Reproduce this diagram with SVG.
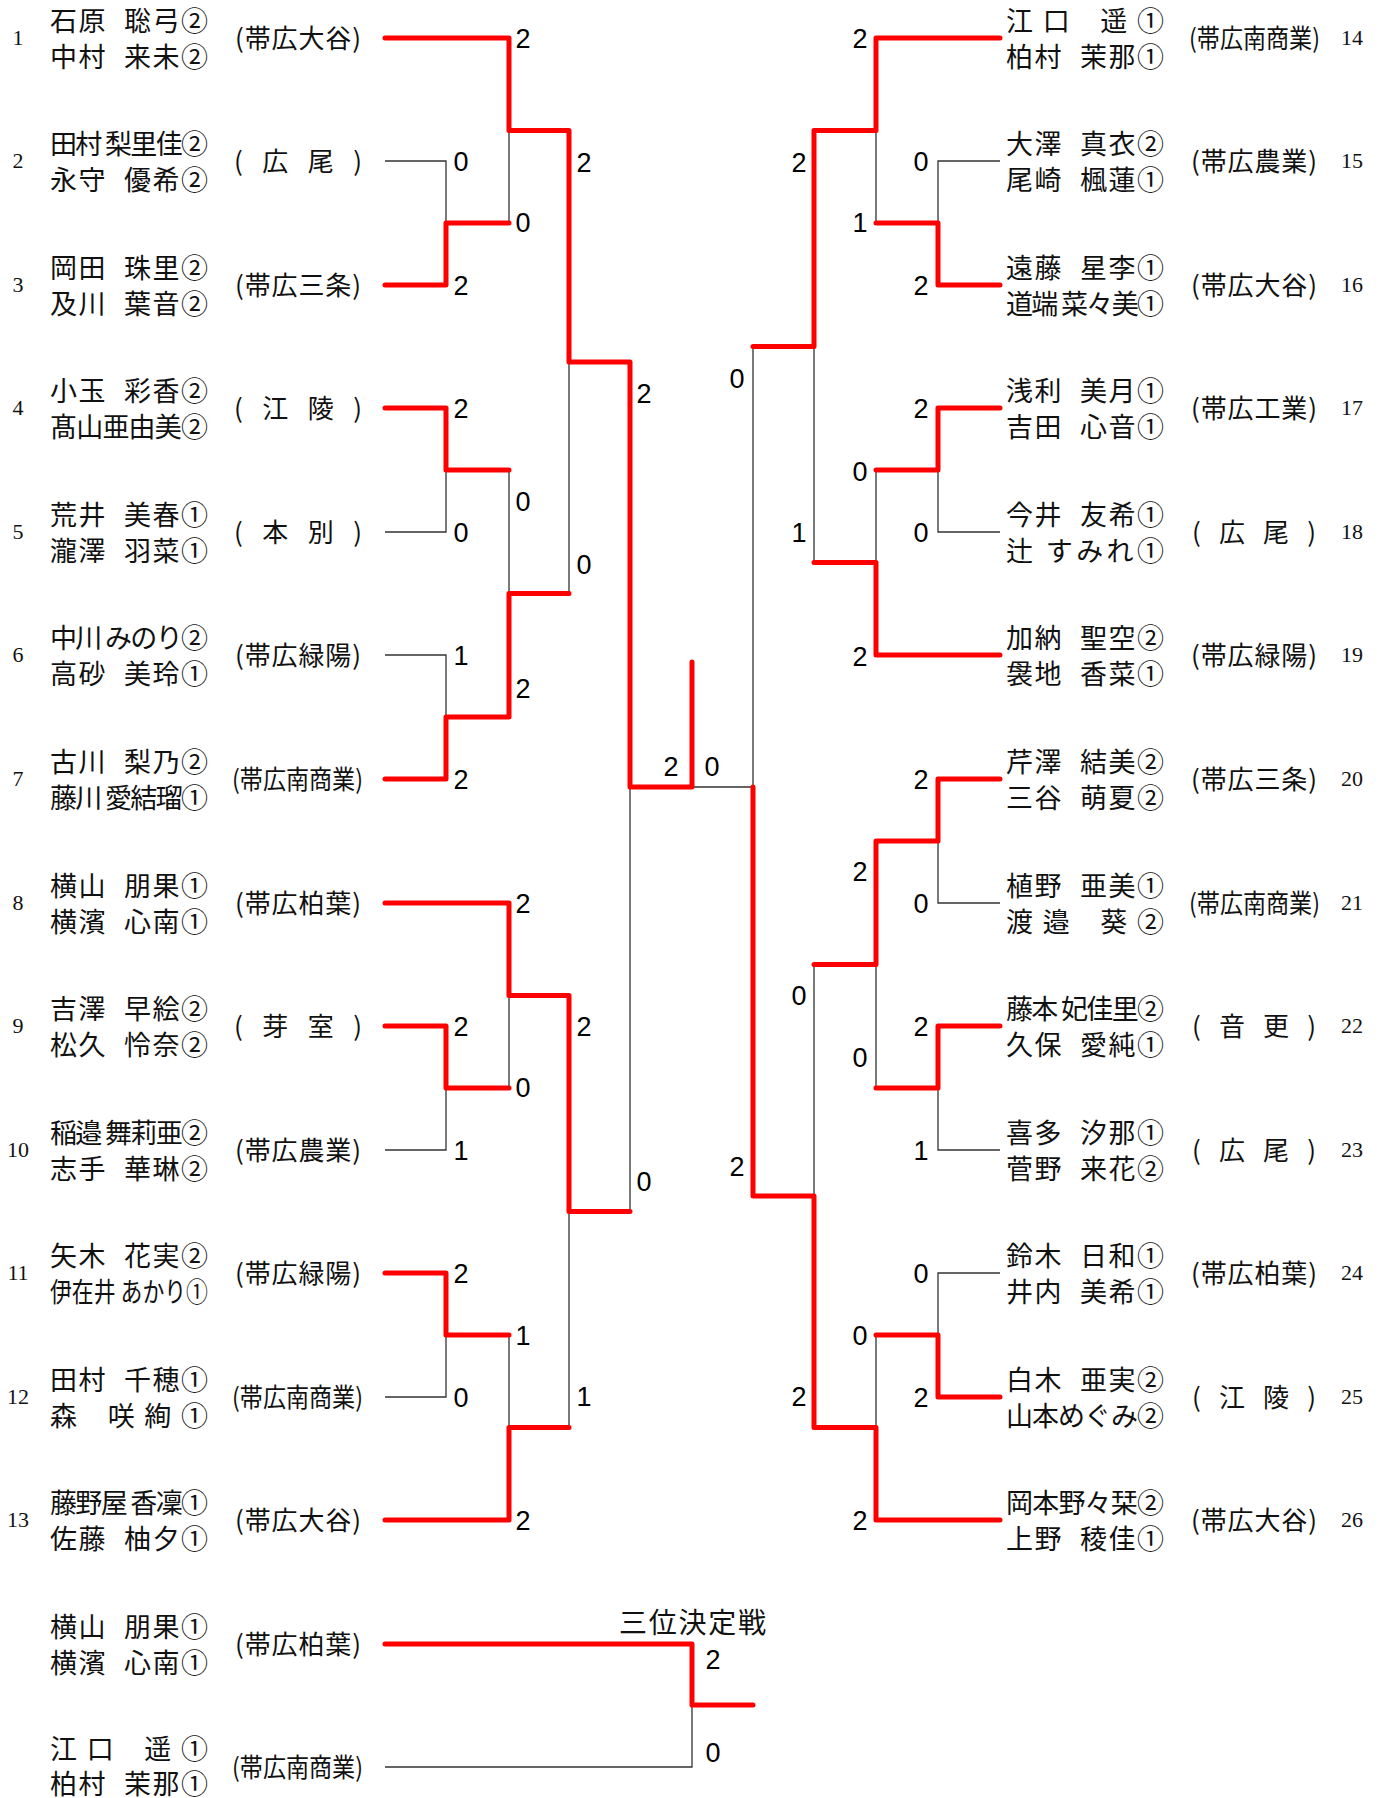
<svg xmlns="http://www.w3.org/2000/svg" width="1385" height="1798" viewBox="0 0 1385 1798">
<style>
.nm{font-family:"Noto Sans CJK JP","Noto Sans CJK SC",sans-serif;font-size:27px;fill:#111}
.sp{letter-spacing:1.5px}
.e{text-anchor:end}
.sc{font-family:"Noto Sans CJK JP","Noto Sans CJK SC",sans-serif;font-size:26px;fill:#111}
.no{font-family:"Liberation Serif",serif;font-size:22px;fill:#111;text-anchor:middle}
.pt{font-family:"Liberation Sans",Arial,sans-serif;font-size:27px;fill:#000;text-anchor:middle}
.ttl{font-family:"Noto Sans CJK JP","Noto Sans CJK SC",sans-serif;font-size:28px;fill:#111}
.thin{stroke:#333;stroke-width:1.3;fill:none}
.red{stroke:#ff0000;stroke-width:5;fill:none;stroke-linecap:round;stroke-linejoin:round}
</style>
<rect width="1385" height="1798" fill="#fff"/>

<g id="connectors">
<g id="thin-lines" class="thin">
<path d="M385 161H446V223M509 130.5V223"/>
<path d="M385 532H446V470M385 655H446V717M509 470V593.5M569 362V593.5"/>
<path d="M385 1150H446V1088M509 995.5V1088"/>
<path d="M385 1397H446V1335M509 1335V1427.5M569 1211.5V1427.5M630 787V1211.5"/>
<path d="M385 1767H692V1705"/>
<path d="M1000 161H938V223M876 130.5V223"/>
<path d="M1000 532H938V470M876 470V562.5M814 346.5V562.5M753 346.5V787H692"/>
<path d="M1000 903H938V841M1000 1150H938V1088M876 964.5V1088"/>
<path d="M1000 1273H938V1335M876 1335V1427.5M814 964.5V1196"/>
</g>
<g id="red-lines" class="red">
<polyline points="385,38 509,38 509,130.5 569,130.5 569,362 630,362 630,787 692,787 692,662"/>
<polyline points="385,285 446,285 446,223 509,223"/>
<polyline points="385,408 446,408 446,470 509,470"/>
<polyline points="385,779 446,779 446,717 509,717 509,593.5 569,593.5"/>
<polyline points="385,903 509,903 509,995.5 569,995.5 569,1211.5 630,1211.5"/>
<polyline points="385,1026 446,1026 446,1088 509,1088"/>
<polyline points="385,1273 446,1273 446,1335 509,1335"/>
<polyline points="385,1520 509,1520 509,1427.5 569,1427.5"/>
<polyline points="385,1644 692,1644 692,1705 753,1705"/>
<polyline points="1000,38 876,38 876,130.5 814,130.5 814,346.5 753,346.5"/>
<polyline points="1000,285 938,285 938,223 876,223"/>
<polyline points="1000,408 938,408 938,470 876,470"/>
<polyline points="1000,655 876,655 876,562.5 814,562.5"/>
<polyline points="1000,779 938,779 938,841 876,841 876,964.5 814,964.5"/>
<polyline points="1000,1026 938,1026 938,1088 876,1088"/>
<polyline points="1000,1397 938,1397 938,1335 876,1335"/>
<polyline points="1000,1520 876,1520 876,1427.5 814,1427.5 814,1196 753,1196 753,787"/>
</g>
</g>

<g id="scores">
<text class="pt" x="461" y="171">0</text>
<text class="pt" x="461" y="295">2</text>
<text class="pt" x="461" y="418">2</text>
<text class="pt" x="461" y="542">0</text>
<text class="pt" x="461" y="665">1</text>
<text class="pt" x="461" y="789">2</text>
<text class="pt" x="461" y="1036">2</text>
<text class="pt" x="461" y="1160">1</text>
<text class="pt" x="461" y="1283">2</text>
<text class="pt" x="461" y="1407">0</text>
<text class="pt" x="523" y="48">2</text>
<text class="pt" x="523" y="232">0</text>
<text class="pt" x="523" y="511">0</text>
<text class="pt" x="523" y="698">2</text>
<text class="pt" x="523" y="913">2</text>
<text class="pt" x="523" y="1097">0</text>
<text class="pt" x="523" y="1345">1</text>
<text class="pt" x="523" y="1530">2</text>
<text class="pt" x="584" y="172">2</text>
<text class="pt" x="584" y="574">0</text>
<text class="pt" x="584" y="1036">2</text>
<text class="pt" x="584" y="1406">1</text>
<text class="pt" x="644" y="403">2</text>
<text class="pt" x="644" y="1191">0</text>
<text class="pt" x="671" y="776">2</text>
<text class="pt" x="712" y="776">0</text>
<text class="pt" x="713" y="1669">2</text>
<text class="pt" x="713" y="1762">0</text>
<text class="pt" x="921" y="171">0</text>
<text class="pt" x="921" y="295">2</text>
<text class="pt" x="921" y="418">2</text>
<text class="pt" x="921" y="542">0</text>
<text class="pt" x="921" y="789">2</text>
<text class="pt" x="921" y="913">0</text>
<text class="pt" x="921" y="1036">2</text>
<text class="pt" x="921" y="1160">1</text>
<text class="pt" x="921" y="1283">0</text>
<text class="pt" x="921" y="1407">2</text>
<text class="pt" x="860" y="48">2</text>
<text class="pt" x="860" y="232">1</text>
<text class="pt" x="860" y="481">0</text>
<text class="pt" x="860" y="666">2</text>
<text class="pt" x="860" y="881">2</text>
<text class="pt" x="860" y="1067">0</text>
<text class="pt" x="860" y="1345">0</text>
<text class="pt" x="860" y="1530">2</text>
<text class="pt" x="799" y="172">2</text>
<text class="pt" x="799" y="542">1</text>
<text class="pt" x="799" y="1005">0</text>
<text class="pt" x="799" y="1406">2</text>
<text class="pt" x="737" y="388">0</text>
<text class="pt" x="737" y="1176">2</text>
</g>

<text id="title-third" class="ttl" x="619" y="1633" textLength="147">三位決定戦</text>

<g id="p1"><text class="no" x="18" y="45">1</text><text class="nm sp"><tspan x="50" y="31">石原 </tspan><tspan class="e" x="209.5" y="31">聡弓②</tspan></text><text class="nm sp"><tspan x="50" y="67">中村 </tspan><tspan class="e" x="209.5" y="67">来未②</tspan></text><text class="sc" x="235" y="48" textLength="126">(帯広大谷)</text></g>
<g id="p2"><text class="no" x="18" y="168">2</text><text class="nm" x="50" y="154" textLength="158">田村 梨里佳②</text><text class="nm sp"><tspan x="50" y="190">永守 </tspan><tspan class="e" x="209.5" y="190">優希②</tspan></text><text class="sc" x="234" y="171" textLength="128">( 広 尾 )</text></g>
<g id="p3"><text class="no" x="18" y="292">3</text><text class="nm sp"><tspan x="50" y="278">岡田 </tspan><tspan class="e" x="209.5" y="278">珠里②</tspan></text><text class="nm sp"><tspan x="50" y="314">及川 </tspan><tspan class="e" x="209.5" y="314">葉音②</tspan></text><text class="sc" x="235" y="295" textLength="126">(帯広三条)</text></g>
<g id="p4"><text class="no" x="18" y="415">4</text><text class="nm sp"><tspan x="50" y="401">小玉 </tspan><tspan class="e" x="209.5" y="401">彩香②</tspan></text><text class="nm" x="50" y="437" textLength="158">髙山亜由美②</text><text class="sc" x="234" y="418" textLength="128">( 江 陵 )</text></g>
<g id="p5"><text class="no" x="18" y="539">5</text><text class="nm sp"><tspan x="50" y="525">荒井 </tspan><tspan class="e" x="209.5" y="525">美春①</tspan></text><text class="nm sp"><tspan x="50" y="561">瀧澤 </tspan><tspan class="e" x="209.5" y="561">羽菜①</tspan></text><text class="sc" x="234" y="542" textLength="128">( 本 別 )</text></g>
<g id="p6"><text class="no" x="18" y="662">6</text><text class="nm" x="50" y="648" textLength="158">中川 みのり②</text><text class="nm sp"><tspan x="50" y="684">高砂 </tspan><tspan class="e" x="209.5" y="684">美玲①</tspan></text><text class="sc" x="235" y="665" textLength="126">(帯広緑陽)</text></g>
<g id="p7"><text class="no" x="18" y="786">7</text><text class="nm sp"><tspan x="50" y="772">古川 </tspan><tspan class="e" x="209.5" y="772">梨乃②</tspan></text><text class="nm" x="50" y="808" textLength="158">藤川 愛結瑠①</text><text class="sc" x="232" y="789" textLength="131" lengthAdjust="spacingAndGlyphs">(帯広南商業)</text></g>
<g id="p8"><text class="no" x="18" y="910">8</text><text class="nm sp"><tspan x="50" y="896">横山 </tspan><tspan class="e" x="209.5" y="896">朋果①</tspan></text><text class="nm sp"><tspan x="50" y="932">横濱 </tspan><tspan class="e" x="209.5" y="932">心南①</tspan></text><text class="sc" x="235" y="913" textLength="126">(帯広柏葉)</text></g>
<g id="p9"><text class="no" x="18" y="1033">9</text><text class="nm sp"><tspan x="50" y="1019">吉澤 </tspan><tspan class="e" x="209.5" y="1019">早絵②</tspan></text><text class="nm sp"><tspan x="50" y="1055">松久 </tspan><tspan class="e" x="209.5" y="1055">怜奈②</tspan></text><text class="sc" x="234" y="1036" textLength="128">( 芽 室 )</text></g>
<g id="p10"><text class="no" x="18" y="1157">10</text><text class="nm" x="50" y="1143" textLength="158">稲邉 舞莉亜②</text><text class="nm sp"><tspan x="50" y="1179">志手 </tspan><tspan class="e" x="209.5" y="1179">華琳②</tspan></text><text class="sc" x="235" y="1160" textLength="126">(帯広農業)</text></g>
<g id="p11"><text class="no" x="18" y="1280">11</text><text class="nm sp"><tspan x="50" y="1266">矢木 </tspan><tspan class="e" x="209.5" y="1266">花実②</tspan></text><text class="nm" x="50" y="1302" textLength="158" lengthAdjust="spacingAndGlyphs">伊在井 あかり①</text><text class="sc" x="235" y="1283" textLength="126">(帯広緑陽)</text></g>
<g id="p12"><text class="no" x="18" y="1404">12</text><text class="nm sp"><tspan x="50" y="1390">田村 </tspan><tspan class="e" x="209.5" y="1390">千穂①</tspan></text><text class="nm" x="50" y="1426" textLength="158">森　咲 絢 ①</text><text class="sc" x="232" y="1407" textLength="131" lengthAdjust="spacingAndGlyphs">(帯広南商業)</text></g>
<g id="p13"><text class="no" x="18" y="1527">13</text><text class="nm" x="50" y="1513" textLength="158">藤野屋 香凜①</text><text class="nm sp"><tspan x="50" y="1549">佐藤 </tspan><tspan class="e" x="209.5" y="1549">柚夕①</tspan></text><text class="sc" x="235" y="1530" textLength="126">(帯広大谷)</text></g>

<g id="p14"><text class="nm" x="1006" y="31" textLength="158">江 口　遥 ①</text><text class="nm sp"><tspan x="1006" y="67">柏村 </tspan><tspan class="e" x="1165.5" y="67">茉那①</tspan></text><text class="sc" x="1189" y="48" textLength="131" lengthAdjust="spacingAndGlyphs">(帯広南商業)</text><text class="no" x="1352" y="45">14</text></g>
<g id="p15"><text class="nm sp"><tspan x="1006" y="154">大澤 </tspan><tspan class="e" x="1165.5" y="154">真衣②</tspan></text><text class="nm sp"><tspan x="1006" y="190">尾崎 </tspan><tspan class="e" x="1165.5" y="190">楓蓮①</tspan></text><text class="sc" x="1191" y="171" textLength="126">(帯広農業)</text><text class="no" x="1352" y="168">15</text></g>
<g id="p16"><text class="nm sp"><tspan x="1006" y="278">遠藤 </tspan><tspan class="e" x="1165.5" y="278">星李①</tspan></text><text class="nm" x="1006" y="314" textLength="158">道端 菜々美①</text><text class="sc" x="1191" y="295" textLength="126">(帯広大谷)</text><text class="no" x="1352" y="292">16</text></g>
<g id="p17"><text class="nm sp"><tspan x="1006" y="401">浅利 </tspan><tspan class="e" x="1165.5" y="401">美月①</tspan></text><text class="nm sp"><tspan x="1006" y="437">吉田 </tspan><tspan class="e" x="1165.5" y="437">心音①</tspan></text><text class="sc" x="1191" y="418" textLength="126">(帯広工業)</text><text class="no" x="1352" y="415">17</text></g>
<g id="p18"><text class="nm sp"><tspan x="1006" y="525">今井 </tspan><tspan class="e" x="1165.5" y="525">友希①</tspan></text><text class="nm" x="1006" y="561" textLength="158">辻 すみれ①</text><text class="sc" x="1192" y="542" textLength="124">( 広 尾 )</text><text class="no" x="1352" y="539">18</text></g>
<g id="p19"><text class="nm sp"><tspan x="1006" y="648">加納 </tspan><tspan class="e" x="1165.5" y="648">聖空②</tspan></text><text class="nm sp"><tspan x="1006" y="684">袰地 </tspan><tspan class="e" x="1165.5" y="684">香菜①</tspan></text><text class="sc" x="1191" y="665" textLength="126">(帯広緑陽)</text><text class="no" x="1352" y="662">19</text></g>
<g id="p20"><text class="nm sp"><tspan x="1006" y="772">芹澤 </tspan><tspan class="e" x="1165.5" y="772">結美②</tspan></text><text class="nm sp"><tspan x="1006" y="808">三谷 </tspan><tspan class="e" x="1165.5" y="808">萌夏②</tspan></text><text class="sc" x="1191" y="789" textLength="126">(帯広三条)</text><text class="no" x="1352" y="786">20</text></g>
<g id="p21"><text class="nm sp"><tspan x="1006" y="896">植野 </tspan><tspan class="e" x="1165.5" y="896">亜美①</tspan></text><text class="nm" x="1006" y="932" textLength="158">渡 邉　葵 ②</text><text class="sc" x="1189" y="913" textLength="131" lengthAdjust="spacingAndGlyphs">(帯広南商業)</text><text class="no" x="1352" y="910">21</text></g>
<g id="p22"><text class="nm" x="1006" y="1019" textLength="158">藤本 妃佳里②</text><text class="nm sp"><tspan x="1006" y="1055">久保 </tspan><tspan class="e" x="1165.5" y="1055">愛純①</tspan></text><text class="sc" x="1192" y="1036" textLength="124">( 音 更 )</text><text class="no" x="1352" y="1033">22</text></g>
<g id="p23"><text class="nm sp"><tspan x="1006" y="1143">喜多 </tspan><tspan class="e" x="1165.5" y="1143">汐那①</tspan></text><text class="nm sp"><tspan x="1006" y="1179">菅野 </tspan><tspan class="e" x="1165.5" y="1179">来花②</tspan></text><text class="sc" x="1192" y="1160" textLength="124">( 広 尾 )</text><text class="no" x="1352" y="1157">23</text></g>
<g id="p24"><text class="nm sp"><tspan x="1006" y="1266">鈴木 </tspan><tspan class="e" x="1165.5" y="1266">日和①</tspan></text><text class="nm sp"><tspan x="1006" y="1302">井内 </tspan><tspan class="e" x="1165.5" y="1302">美希①</tspan></text><text class="sc" x="1191" y="1283" textLength="126">(帯広柏葉)</text><text class="no" x="1352" y="1280">24</text></g>
<g id="p25"><text class="nm sp"><tspan x="1006" y="1390">白木 </tspan><tspan class="e" x="1165.5" y="1390">亜実②</tspan></text><text class="nm" x="1006" y="1426" textLength="158">山本めぐみ②</text><text class="sc" x="1192" y="1407" textLength="124">( 江 陵 )</text><text class="no" x="1352" y="1404">25</text></g>
<g id="p26"><text class="nm" x="1006" y="1513" textLength="158">岡本野々栞②</text><text class="nm sp"><tspan x="1006" y="1549">上野 </tspan><tspan class="e" x="1165.5" y="1549">稜佳①</tspan></text><text class="sc" x="1191" y="1530" textLength="126">(帯広大谷)</text><text class="no" x="1352" y="1527">26</text></g>

<g id="third-a"><text class="nm sp"><tspan x="50" y="1637">横山 </tspan><tspan class="e" x="209.5" y="1637">朋果①</tspan></text><text class="nm sp"><tspan x="50" y="1673">横濱 </tspan><tspan class="e" x="209.5" y="1673">心南①</tspan></text><text class="sc" x="235" y="1654" textLength="126">(帯広柏葉)</text></g>
<g id="third-b"><text class="nm" x="50" y="1759" textLength="158">江 口　遥 ①</text><text class="nm sp"><tspan x="50" y="1794">柏村 </tspan><tspan class="e" x="209.5" y="1794">茉那①</tspan></text><text class="sc" x="232" y="1777" textLength="131" lengthAdjust="spacingAndGlyphs">(帯広南商業)</text></g>
</svg>
